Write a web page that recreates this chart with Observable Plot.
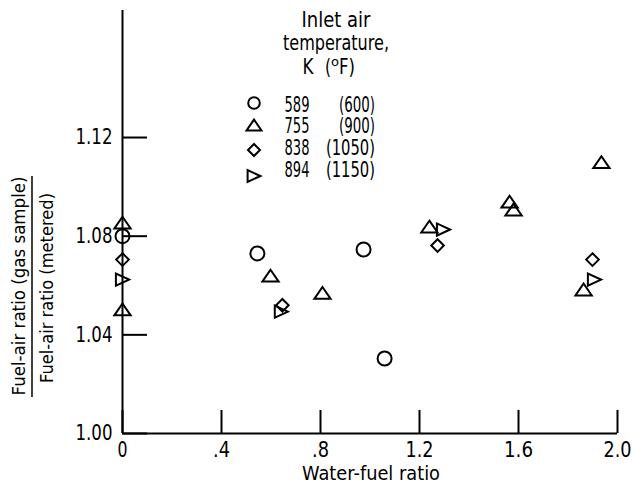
<!DOCTYPE html>
<html>
<head>
<meta charset="utf-8">
<script src="https://cdn.jsdelivr.net/npm/d3@7"></script>
<script src="https://cdn.jsdelivr.net/npm/@observablehq/plot@0.6"></script>
<style>
  html, body { margin: 0; padding: 0; background: white; }
</style>
</head>
<body>
<div id="chart"></div>
<script>
// ---- data ----
const series589X = [0, 0.545, 0.974, 1.059];
const series589Y = [1.080, 1.073, 1.0746, 1.0304];

const series755X = [0, 0, 0.598, 0.808, 1.24, 1.564, 1.58, 1.863, 1.935];
const series755Y = [1.0855, 1.0503, 1.064, 1.057, 1.0839, 1.094, 1.0908, 1.0584, 1.110];

const series838X = [0, 0.646, 1.273, 1.899];
const series838Y = [1.0705, 1.052, 1.0762, 1.0705];

const series894X = [0, 0.642, 1.297, 1.907];
const series894Y = [1.0624, 1.0494, 1.0827, 1.0624];

const legendK = ["589", "755", "838", "894"];
const legendF = ["(600)", "(900)", "(1050)", "(1150)"];

const xTicks = [0, 0.4, 0.8, 1.2, 1.6, 2.0];
const xTickLabels = ["0", ".4", ".8", "1.2", "1.6", "2.0"];
const yTicks = [1.00, 1.04, 1.08, 1.12];
const yTickLabels = ["1.00", "1.04", "1.08", "1.12"];

// ---- layout / style (text widths emulate the condensed typeface) ----
const FONT = "'DejaVu Sans', sans-serif";
const xLabelWidths = [10, 17, 17, 28, 29, 28];
const yLabelWidth = 37;
const legendKWidth = [25, 25, 25, 25];
const legendFWidth = [36, 36, 49, 49];

function condense(sel, w) {
  sel.attr("textLength", w).attr("lengthAdjust", "spacingAndGlyphs");
  return sel;
}

// ---- symbols ----
const triUp = {draw(ctx, size) {
  const r = Math.sqrt(size / Math.PI);
  const w = r * 1.1, h = r * 0.8;
  ctx.moveTo(0, -h); ctx.lineTo(w, h); ctx.lineTo(-w, h); ctx.closePath();
}};
const triRight = {draw(ctx, size) {
  const r = Math.sqrt(size / Math.PI);
  const w = r * 1.0, h = r * 0.92;
  ctx.moveTo(w, 0); ctx.lineTo(-w, h); ctx.lineTo(-w, -h); ctx.closePath();
}};
const diamond = {draw(ctx, size) {
  const r = Math.sqrt(size / Math.PI);
  ctx.moveTo(0, -r); ctx.lineTo(r, 0); ctx.lineTo(0, r); ctx.lineTo(-r, 0); ctx.closePath();
}};

const toRows = (xs, ys) => xs.map((x, i) => ({x, y: ys[i]}));
const seriesDefs = [
  {rows: toRows(series589X, series589Y), symbol: "circle", r: 7, lr: 5.8},
  {rows: toRows(series755X, series755Y), symbol: triUp, r: 7.4, lr: 6.8},
  {rows: toRows(series838X, series838Y), symbol: diamond, r: 6.3, lr: 6},
  {rows: toRows(series894X, series894Y), symbol: triRight, r: 6.6, lr: 6.4}
];

const chart = Plot.plot({
  width: 632,
  height: 484,
  marginLeft: 122,
  marginRight: 15,
  marginTop: 10,
  marginBottom: 51,
  x: {domain: [0, 2.0]},
  y: {domain: [1.0, 1.1715]},
  style: {fontFamily: FONT, background: "white", color: "black"},
  marks: [
    Plot.axisX({ticks: xTicks, tickFormat: d => xTickLabels[xTicks.indexOf(d)],
      tickSize: -23, tickPadding: 32, strokeWidth: 2, fontSize: 20.5, label: null}),
    Plot.axisY({ticks: yTicks, tickFormat: d => yTickLabels[yTicks.indexOf(d)],
      tickSize: -25, tickPadding: 35, strokeWidth: 2, fontSize: 21, label: null}),
    Plot.ruleX([0], {strokeWidth: 2}),
    Plot.ruleY([1.0], {strokeWidth: 2}),
    ...seriesDefs.map(s => Plot.dot(s.rows, {x: "x", y: "y", symbol: s.symbol, r: s.r,
      stroke: "black", strokeWidth: 2, fill: "none"}))
  ]
});

document.getElementById("chart").appendChild(chart);

const svg = d3.select(chart);

// condense the axis tick labels
svg.selectAll('g[aria-label="x-axis tick label"] text').each(function() {
  const i = xTickLabels.indexOf(this.textContent);
  if (i >= 0) condense(d3.select(this), xLabelWidths[i]);
});
svg.selectAll('g[aria-label="y-axis tick label"] text').each(function() {
  condense(d3.select(this), yLabelWidth);
});

// ---- annotations: legend, axis titles ----
const g = svg.append("g").attr("font-family", FONT).attr("fill", "black");

// legend header
condense(g.append("text").attr("x", 336).attr("y", 27).attr("text-anchor", "middle").attr("font-size", 20.5).text("Inlet air"), 69);
condense(g.append("text").attr("x", 336).attr("y", 50).attr("text-anchor", "middle").attr("font-size", 20.5).text("temperature,"), 106);
condense(g.append("text").attr("x", 308).attr("y", 74).attr("text-anchor", "middle").attr("font-size", 20.5).text("K"), 11);
const fTxt = g.append("text").attr("x", 340).attr("y", 74).attr("font-size", 20.5);
condense(fTxt.append("tspan").text("("), 6);
condense(fTxt.append("tspan").attr("font-size", 13).attr("dy", -8).text("o"), 8);
condense(fTxt.append("tspan").attr("dy", 8).text("F)"), 16);

// legend entries
const symY = [103, 125, 150, 176];
const txtY = [112, 133, 155, 177];
seriesDefs.forEach((s, i) => {
  const sym = typeof s.symbol === "string" ? d3.symbolCircle : s.symbol;
  g.append("path")
    .attr("d", d3.symbol(sym, Math.PI * s.lr * s.lr)())
    .attr("transform", `translate(254,${symY[i]})`)
    .attr("fill", "none").attr("stroke", "black").attr("stroke-width", 2);
  condense(g.append("text").attr("x", 297).attr("y", txtY[i]).attr("font-size", 20.5).text(legendK[i]), legendKWidth[i]);
  condense(g.append("text").attr("x", 375).attr("y", txtY[i]).attr("text-anchor", "end").attr("font-size", 20.5).text(legendF[i]), legendFWidth[i]);
});

// x-axis title
condense(g.append("text").attr("x", 371).attr("y", 480).attr("text-anchor", "middle").attr("font-size", 20).text("Water-fuel ratio"), 138);

// y-axis title (fraction)
condense(g.append("text").attr("transform", "translate(25,286) rotate(-90)").attr("text-anchor", "middle")
  .attr("font-size", 17).text("Fuel-air ratio (gas sample)"), 219);
g.append("line").attr("x1", 32).attr("x2", 32).attr("y1", 176).attr("y2", 397)
  .attr("stroke", "black").attr("stroke-width", 1.5);
condense(g.append("text").attr("transform", "translate(53,288) rotate(-90)").attr("text-anchor", "middle")
  .attr("font-size", 17).text("Fuel-air ratio (metered)"), 190);
</script>
</body>
</html>
